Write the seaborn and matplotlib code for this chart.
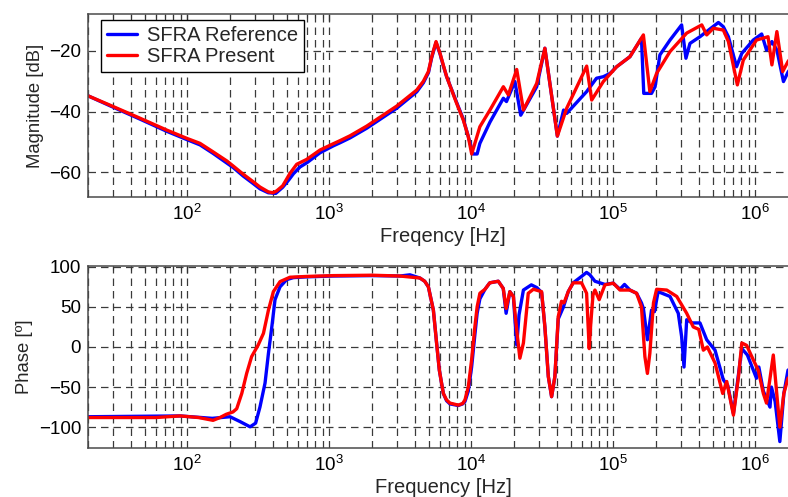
import numpy as np
import pandas as pd
import matplotlib
matplotlib.use("Agg")
import matplotlib.pyplot as plt
from matplotlib.ticker import LogLocator, NullFormatter, FuncFormatter, FixedLocator
import seaborn as sns

# ---------------- data ----------------
series_names = ["SFRA Reference", "SFRA Present"]
series_colors = ["#0000ff", "#ff0000"]

# Magnitude, reference trace
mag_ref_f = [20, 28.6, 46.5, 71.6, 100, 123, 152, 190, 211, 248, 292, 325, 372, 420,
             470, 520, 560, 622, 700, 861, 1070, 1191, 1400, 1836, 2985, 4130, 4600,
             4990, 5260, 5650, 6030, 6350, 6710, 7890, 8790, 9500, 10300, 11000,
             11500, 13540, 16830, 17700, 20300, 22300, 28900, 33000, 40400, 44700,
             47000, 65000, 76200, 85100, 95000, 105700, 131000, 158000, 164000,
             186000, 197000, 213000, 251000, 303000, 325000, 347000, 408000, 550000,
             596000, 647000, 738000, 804000, 968000, 1110000, 1200000, 1310000,
             1420000, 1580000, 1700000, 2000000]
mag_ref_db = [-34.8, -38.1, -42.5, -46.5, -49.3, -51.0, -53.8, -57.0, -58.5, -61.3,
              -63.8, -65.5, -66.8, -67.0, -65.0, -62.5, -60.5, -58.3, -56.8, -53.6,
              -51.3, -50.3, -48.7, -45.5, -38.9, -33.5, -30.5, -27.2, -22.3, -17.2,
              -21.0, -24.8, -28.5, -37.0, -42.5, -48.0, -54.0, -54.0, -50.5, -43.5,
              -35.6, -36.7, -30.1, -41.2, -31.8, -19.1, -48.1, -39.5, -40.6, -33.4,
              -29.0, -28.5, -27.4, -25.2, -21.9, -15.8, -34.0, -34.0, -31.8, -21.3,
              -16.4, -11.4, -22.4, -17.5, -15.3, -10.6, -12.0, -15.3, -25.2, -20.8,
              -16.4, -14.4, -19.7, -16.9, -19.7, -30.1, -27.0, -22.0]

# Magnitude, present trace
mag_pre_f = [20, 28.6, 46.5, 71.6, 100, 123, 152, 190, 211, 248, 292, 325, 372, 400,
             426, 470, 529, 590, 693, 861, 1070, 1191, 1400, 1836, 2985, 4130, 4600,
             4990, 5260, 5650, 6030, 6350, 6710, 7890, 8790, 9500, 10070, 11500,
             13540, 16830, 18250, 20900, 23300, 28900, 33000, 40400, 47000, 65000,
             70500, 85100, 105700, 131000, 163000, 181000, 202000, 251000, 329000,
             420000, 455000, 507000, 596000, 647000, 748000, 824000, 1020000,
             1230000, 1310000, 1420000, 1560000, 1700000, 2000000]
mag_pre_db = [-34.8, -37.9, -42.2, -46.1, -48.9, -50.5, -53.3, -56.3, -58.0, -60.7,
              -63.2, -64.9, -66.5, -66.8, -66.2, -64.5, -60.4, -57.4, -55.8, -52.7,
              -50.6, -49.6, -48.0, -44.8, -38.2, -32.9, -30.0, -26.8, -22.0, -16.9,
              -20.8, -24.6, -28.5, -37.3, -42.8, -48.0, -54.0, -45.0, -39.5, -31.8,
              -34.5, -26.1, -39.5, -30.7, -19.1, -48.1, -38.9, -25.0, -36.2, -30.1,
              -25.2, -21.9, -14.7, -33.4, -27.4, -20.2, -14.1, -11.4, -14.7, -12.5,
              -13.1, -16.9, -31.2, -23.0, -16.4, -15.3, -24.6, -13.6, -26.8, -23.5,
              -19.0]

# Phase, reference trace
ph_ref_f = [20, 89, 150, 200, 235, 277, 303, 325, 353, 373, 394, 415, 450, 501, 559,
            700, 1070, 2000, 3150, 3700, 4350, 4700, 4990, 5410, 5700, 5960, 6360,
            6700, 7080, 8100, 8700, 9030, 9530, 10060, 10600, 11000, 11500, 12500,
            13500, 15500, 16800, 17600, 18700, 19800, 20900, 21700, 23300, 26500,
            29000, 31300, 33000, 34900, 36800, 38800, 41000, 44600, 48200, 52200,
            59800, 64900, 68500, 74300, 87400, 100000, 111500, 120000, 131000,
            146000, 158000, 163000, 174000, 186000, 195000, 207000, 251000, 287000,
            303000, 315000, 329000, 360000, 408000, 455000, 521000, 596000, 640000,
            702000, 804000, 880000, 1020000, 1060000, 1140000, 1270000, 1300000,
            1380000, 1490000, 1590000, 1700000, 2000000]
ph_ref_deg = [-87, -86, -89, -87, -93, -99.6, -95, -75, -45, -8, 25, 59, 75, 84, 86.5,
              87.5, 88.5, 89, 88.5, 90, 86, 82, 75, 46, 5, -29, -58, -67, -71, -73,
              -71, -68, -55, -25, 15, 42, 60, 72, 80, 82, 73, 42, 69, 63, 2.5, 40,
              71, 77.5, 74, 68, 25, -37, -62, -37, 35, 50, 69, 80, 88, 93, 90, 82,
              78, 79.6, 72, 78, 71, 67, 55, 48, 9, 46, 44, 69, 63, 42, 13, -25, 34,
              30, 30, 9, -4, -41, -48, -83, -2, -10, -39, -25, -55, -75, -50, -68,
              -118, -58, -29, -20]

# Phase, present trace
ph_pre_f = [20, 60, 89, 120, 152, 170, 188, 210, 223, 242, 262, 284, 316, 344, 373,
            404, 450, 529, 700, 1070, 2000, 3150, 4350, 4700, 4990, 5410, 5700,
            5960, 6360, 6700, 7080, 8100, 8700, 9030, 9530, 10060, 10600, 11000,
            11500, 12500, 13500, 15500, 16800, 17600, 18700, 19800, 20900, 22000,
            23300, 25200, 27400, 31300, 33000, 34900, 36800, 38800, 41000, 43200,
            45000, 48200, 52200, 59800, 64900, 67700, 69500, 72000, 74300, 79600,
            87400, 100000, 111500, 131000, 146000, 158000, 167000, 174000, 181000,
            192000, 202000, 238000, 280000, 329000, 366000, 400000, 431000, 460000,
            521000, 590000, 630000, 702000, 762000, 804000, 870000, 968000, 1050000,
            1140000, 1200000, 1340000, 1430000, 1490000, 1590000, 1700000, 2000000]
ph_pre_deg = [-88, -88, -86, -88, -91.5, -88, -84, -81, -77, -58, -33, -12, 2.5, 17,
              46, 69, 81.5, 87, 88, 89, 89.5, 88.5, 86, 82, 75, 46, 5, -29, -58, -66,
              -70, -72.5, -70.5, -66, -50, -16, 25, 50, 67, 72, 80, 82, 73, 48, 69,
              63, 21, -14, 5, 67, 72, 69, 25, -37, -62, -37, 38, 57, 55, 69, 80, 80,
              67, -2, 30, 65, 71, 59, 77.5, 79.6, 71, 71, 67, 50, -12, -33, -8, 55,
              72, 71, 63, 42, 25, 22, -4, 0, -20, -58, -43, -85, -37, 5, 2, -16, -29,
              -58, -70, -10, -66, -100, -58, -39, -30]

decade_ticks = [1e2, 1e3, 1e4, 1e5, 1e6]


def long_frame(f_ref, v_ref, f_pre, v_pre):
    return pd.concat([
        pd.DataFrame({"freq": f_ref, "value": v_ref, "series": series_names[0]}),
        pd.DataFrame({"freq": f_pre, "value": v_pre, "series": series_names[1]}),
    ], ignore_index=True)


mag_df = long_frame(mag_ref_f, mag_ref_db, mag_pre_f, mag_pre_db)
ph_df = long_frame(ph_ref_f, ph_ref_deg, ph_pre_f, ph_pre_deg)

# ---------------- style ----------------
sns.set_style("white")
plt.rcParams["font.family"] = ["Liberation Sans", "DejaVu Sans"]
plt.rcParams["mathtext.fontset"] = "custom"
plt.rcParams["mathtext.rm"] = "Liberation Sans"
plt.rcParams["mathtext.it"] = "Liberation Sans:italic"
plt.rcParams["mathtext.bf"] = "Liberation Sans:bold"
plt.rcParams["lines.solid_joinstyle"] = "round"
plt.rcParams["lines.solid_capstyle"] = "round"

palette = dict(zip(series_names, series_colors))
grid_kw = dict(color="#3a3a3a", linewidth=0.9, linestyle=(0, (6, 4)))
spine_color = "#4a4a4a"

fig = plt.figure(figsize=(7.88, 4.97), dpi=100)
ax_mag = fig.add_axes([88 / 788, 1 - 197 / 497, 710 / 788, 183 / 497])
ax_ph = fig.add_axes([88 / 788, 1 - 448 / 497, 710 / 788, 182 / 497])

sns.lineplot(data=mag_df, x="freq", y="value", hue="series", hue_order=series_names,
             palette=palette, estimator=None, linewidth=2.4, ax=ax_mag, legend=False)
sns.lineplot(data=ph_df, x="freq", y="value", hue="series", hue_order=series_names,
             palette=palette, estimator=None, linewidth=2.4, ax=ax_ph, legend=False)


def sci_label(v, _pos):
    return r"$10^{%d}$" % int(round(np.log10(v)))


for ax in (ax_mag, ax_ph):
    ax.set_xscale("log")
    ax.set_xlim(20, 2e6)
    ax.xaxis.set_major_locator(FixedLocator(decade_ticks))
    ax.xaxis.set_major_formatter(FuncFormatter(sci_label))
    ax.xaxis.set_minor_locator(LogLocator(base=10, subs=np.arange(2, 10), numticks=20))
    ax.xaxis.set_minor_formatter(NullFormatter())
    ax.grid(True, which="both", axis="x", **grid_kw)
    ax.grid(True, which="major", axis="y", **grid_kw)
    ax.set_axisbelow(True)
    ax.tick_params(which="both", direction="in", top=True, right=True,
                   colors="#333333", labelcolor="black", labelsize=13.5)
    ax.tick_params(which="major", length=5, width=0.9, pad=5)
    ax.tick_params(which="minor", length=3, width=0.8)
    for sp in ax.spines.values():
        sp.set_visible(True)
        sp.set_color(spine_color)
        sp.set_linewidth(1.1)

ax_mag.set_ylim(-68.2, -7.8)
ax_mag.set_yticks([-60, -40, -20])
ax_mag.set_xlabel("Freqency [Hz]", fontsize=14.5, labelpad=2)
ax_mag.set_ylabel("Magnitude [dB]", fontsize=13.3, labelpad=4)

ax_ph.set_ylim(-126, 101)
ax_ph.set_yticks([-100, -50, 0, 50, 100])
ax_ph.set_xlabel("Frequency [Hz]", fontsize=14.5, labelpad=2)
ax_ph.set_ylabel("Phase [º]", fontsize=13.3, labelpad=4)

handles = [plt.Line2D([], [], color=c, linewidth=2.4) for c in series_colors]
leg = ax_mag.legend(handles, series_names, loc="upper left",
                    bbox_to_anchor=(13 / 710, 1 - 6 / 183), borderaxespad=0,
                    fontsize=14.5, frameon=True, fancybox=False, framealpha=1,
                    edgecolor="black", handlelength=1.5, handletextpad=0.5,
                    labelspacing=0.1, borderpad=0.3)
leg.get_frame().set_linewidth(1.0)

fig.savefig("out.png", dpi=100)
